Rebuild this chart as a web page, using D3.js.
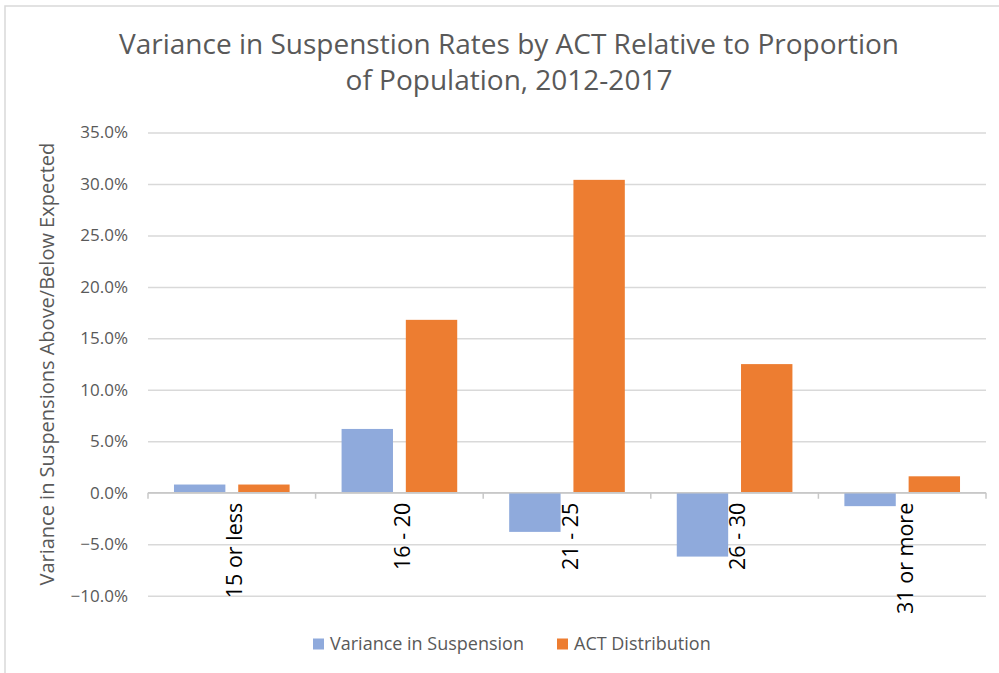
<!DOCTYPE html>
<html>
<head>
<meta charset="utf-8">
<script src="https://cdn.jsdelivr.net/npm/d3@7/dist/d3.min.js"></script>
<style>
  body { margin: 0; background: #fff; }
  text { font-family: "Open Sans", sans-serif; }
</style>
</head>
<body>
<div id="chart"></div>
<script>
var categories = ["15 or less", "16 - 20", "21 - 25", "26 - 30", "31 or more"];
var seriesNames = ["Variance in Suspension", "ACT Distribution"];
var varianceValues = [0.8, 6.2, -3.8, -6.2, -1.3];
var actValues = [0.8, 16.8, 30.4, 12.5, 1.6];
var yTicks = [-10, -5, 0, 5, 10, 15, 20, 25, 30, 35];
var colors = ["#8faadc", "#ed7d31"];

var svgWidth = 999;
var svgHeight = 673;

var margin = { top: 132.5, right: 13, bottom: 77.3, left: 148 };
var width = svgWidth - margin.left - margin.right;
var height = svgHeight - margin.top - margin.bottom;

var svg = d3.select("#chart")
    .append("svg")
    .attr("width", svgWidth)
    .attr("height", svgHeight);

// chart frame
svg.append("rect")
    .attr("x", 5)
    .attr("y", 6)
    .attr("width", svgWidth + 10)
    .attr("height", svgHeight + 10)
    .attr("fill", "none")
    .attr("stroke", "#d9d9d9")
    .attr("stroke-width", 1.5);

var chartGroup = svg.append("g")
    .attr("transform", `translate(${margin.left}, ${margin.top})`);

var data = categories.map(function (c, i) {
    return { cat: c, values: [varianceValues[i], actValues[i]] };
});

// scales
var x0 = d3.scaleBand()
    .domain(categories)
    .range([0, width])
    .paddingInner(0.31)
    .paddingOuter(0.155);

var x1 = d3.scaleBand()
    .domain([0, 1])
    .range([0, x0.bandwidth()])
    .paddingInner(0.2);

var y = d3.scaleLinear()
    .domain([-10, 35])
    .range([height, 0]);

// gridlines + tick labels
var leftAxis = d3.axisLeft(y)
    .tickValues(yTicks)
    .tickSize(-width)
    .tickPadding(20)
    .tickFormat(d => d3.format(".1f")(d) + "%");

var gAxis = chartGroup.append("g").call(leftAxis);
gAxis.select(".domain").remove();
gAxis.selectAll(".tick line")
    .attr("stroke", "#d9d9d9")
    .attr("stroke-width", 1.5);
gAxis.selectAll(".tick text")
    .attr("fill", "#595959")
    .attr("font-size", "17px")
    .attr("font-family", "Open Sans, sans-serif");

// bars
var groups = chartGroup.selectAll(".cluster")
    .data(data)
    .enter()
    .append("g")
    .attr("transform", d => `translate(${x0(d.cat)}, 0)`);

groups.selectAll("rect")
    .data(d => d.values)
    .enter()
    .append("rect")
    .attr("x", (d, i) => x1(i))
    .attr("y", d => y(Math.max(0, d)))
    .attr("width", x1.bandwidth())
    .attr("height", d => Math.abs(y(d) - y(0)))
    .attr("fill", (d, i) => colors[i]);

// zero axis with category ticks
var step = x0.step();
chartGroup.append("line")
    .attr("x1", 0)
    .attr("x2", width)
    .attr("y1", y(0))
    .attr("y2", y(0))
    .attr("stroke", "#c8c8c8")
    .attr("stroke-width", 1.5);

chartGroup.selectAll(".cattick")
    .data(d3.range(categories.length + 1))
    .enter()
    .append("line")
    .attr("x1", i => i * step)
    .attr("x2", i => i * step)
    .attr("y1", y(0))
    .attr("y2", y(0) + 6)
    .attr("stroke", "#c8c8c8")
    .attr("stroke-width", 1.5);

// category labels, rotated
chartGroup.selectAll(".catlabel")
    .data(categories)
    .enter()
    .append("text")
    .attr("transform", d => `translate(${x0(d) + x0.bandwidth() / 2 + 3}, ${y(0) + 10}) rotate(-90)`)
    .attr("text-anchor", "end")
    .attr("dy", "0.35em")
    .attr("fill", "#000")
    .attr("font-size", "21.5px")
    .text(d => d);

// title
var titleLines = ["Variance in Suspenstion Rates by ACT Relative to Proportion", "of Population, 2012-2017"];
svg.selectAll(".title")
    .data(titleLines)
    .enter()
    .append("text")
    .attr("x", 509)
    .attr("y", (d, i) => 54 + i * 36)
    .attr("text-anchor", "middle")
    .attr("fill", "#595959")
    .attr("font-size", "28px")
    .text(d => d);

// y axis title
svg.append("text")
    .attr("transform", `translate(47, ${margin.top + y(12.5)}) rotate(-90)`)
    .attr("text-anchor", "middle")
    .attr("dy", "0.35em")
    .attr("fill", "#595959")
    .attr("font-size", "20px")
    .text("Variance in Suspensions Above/Below Expected");

// legend
var legendX = [313, 557];
var legend = svg.selectAll(".legend")
    .data(seriesNames)
    .enter()
    .append("g")
    .attr("transform", (d, i) => `translate(${legendX[i]}, 644)`);

legend.append("rect")
    .attr("x", 0)
    .attr("y", -5.5)
    .attr("width", 11)
    .attr("height", 11)
    .attr("fill", (d, i) => colors[i]);

legend.append("text")
    .attr("x", 17)
    .attr("dy", "0.35em")
    .attr("fill", "#595959")
    .attr("font-size", "18px")
    .text(d => d);
</script>
</body>
</html>
